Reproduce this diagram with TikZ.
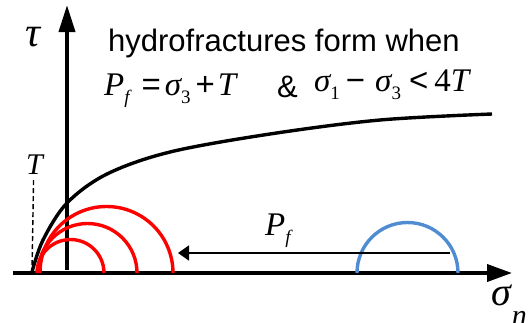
\documentclass[tikz,border=0pt]{standalone}
\usepackage{fontspec}
\setmainfont{Liberation Sans}
\newfontfamily\tms{Liberation Serif}
\usetikzlibrary{arrows.meta,positioning,calc}
\definecolor{hfred}{RGB}{255,0,0}
\definecolor{hfblue}{RGB}{80,140,210}
\newcommand{\mv}[1]{{\tms\itshape #1}}
\newcommand{\msb}[1]{\raisebox{-0.25em}{\fontsize{19}{19}\selectfont\tms #1}}

\begin{document}
\begin{tikzpicture}[
  x=1pt, y=-1pt,
  font=\fontsize{33}{35}\selectfont,
  axis/.style={line width=3.8pt},
  mohr/.style={line width=3.4pt},
  lbl/.style={anchor=base west, inner sep=0pt},
  >={Triangle[length=11pt,width=15pt]}
]
\useasboundingbox (0,0) rectangle (530,322);

% axes
\coordinate (tauorig) at (67,270);
\coordinate (tautip) at (67,5);
\coordinate (sigstart) at (13,273);
\coordinate (sigtip) at (512,273);
\draw[axis, -{Triangle[length=27pt,width=16pt]}] (tauorig) -- (tautip);
\draw[axis, -{Triangle[length=25pt,width=17pt]}] (sigstart) -- (sigtip);

\node[lbl, font=\fontsize{42}{42}\selectfont] (taulab) at (25,46) {\mv{τ}};
\node[lbl, font=\fontsize{40}{40}\selectfont] (siglab) at (491,305)
  {\mv{σ}\hspace{1pt}\raisebox{-0.5em}{\fontsize{30}{30}\selectfont\mv{n}}};

% failure envelope
\coordinate (envstart) at (32,272);
\draw[line width=3.4pt] plot[smooth, tension=0.55] coordinates {
  (32,272) (43,240) (67,203) (107,174) (170,152) (270,134) (380,120) (492,114)};

% tensile strength
\node[lbl, font=\fontsize{30}{30}\selectfont] (tlab) at (26,174) {\mv{T}};
\draw[line width=1.4pt, dash pattern=on 5pt off 3pt] ([xshift=-1pt,yshift=-6pt]tlab.south) -- (envstart);

% Mohr circles at failure
\draw[mohr, hfred] (37,273) arc[start angle=180, end angle=360, radius=33.5];
\draw[mohr, hfred] (38,273) arc[start angle=180, end angle=360, radius=49.5];
\draw[mohr, hfred] (40,273) arc[start angle=180, end angle=360, radius=66.5];
\draw[mohr, hfblue] (357,273) arc[start angle=180, end angle=360, radius=50.5];

% fluid pressure shift
\coordinate (pfstart) at (450,253);
\coordinate (pfend) at (178,253);
\draw[->, line width=1.6pt] (pfstart) -- (pfend);
\node[lbl] (pflab) at (265,235) {\mv{P}\msb{\itshape f}};

% condition text
\node[lbl, font=\fontsize{31}{32}\selectfont] (hydro) at (108,51) {hydrofractures form when};
\node[lbl] (eqa) at (104,95)
  {\mv{P}\msb{\itshape f}\hspace{12pt}=\hspace{4pt}\mv{σ}\msb{3}\hspace{5pt}+\hspace{3pt}\mv{T}};
\node[lbl, font=\fontsize{31}{31}\selectfont] (amp) at (277,97) {\&};
\node[lbl] (eqb) at (314,91)
  {\mv{σ}\msb{1}\hspace{6pt}−\hspace{10pt}\mv{σ}\msb{3}\hspace{8pt}<\hspace{6pt}{\tms 4}\mv{T}};
\end{tikzpicture}
\end{document}
